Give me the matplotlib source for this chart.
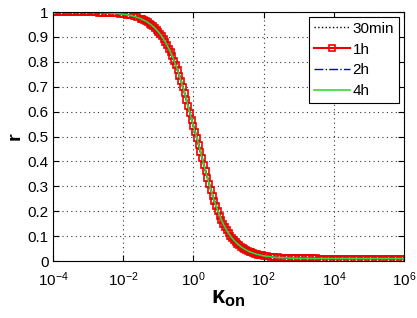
import matplotlib
matplotlib.use("Agg")
import matplotlib.pyplot as plt
import numpy as np

plt.rcParams['font.family'] = ['Liberation Sans', 'DejaVu Sans']
plt.rcParams['mathtext.fontset'] = 'custom'
plt.rcParams['mathtext.rm'] = 'Liberation Sans'
plt.rcParams['mathtext.it'] = 'Liberation Sans'
plt.rcParams['mathtext.bf'] = 'Liberation Sans:bold'

# k_on sampled on a log grid, 10^-4 .. 10^6 in steps of 0.1 decade
k_grid = np.logspace(-4, 6, 101)

# r (all four curves lie on top of each other)
r_grid = [1.000, 1.000, 1.000, 1.000, 1.000, 0.9997, 0.9997, 0.9996, 0.9995, 0.9993,
          0.9991, 0.9989, 0.9986, 0.9983, 0.9978, 0.9973, 0.9966, 0.9957, 0.9946, 0.9932,
          0.9914, 0.9893, 0.9865, 0.9831, 0.9788, 0.9735, 0.9668, 0.9586, 0.9484, 0.9359,
          0.9207, 0.9022, 0.8799, 0.8534, 0.8223, 0.7862, 0.7451, 0.6992, 0.6489, 0.5952,
          0.5420, 0.495, 0.440, 0.385, 0.335, 0.285, 0.240, 0.200, 0.165, 0.1350,
          0.1120, 0.0927, 0.0769, 0.0639, 0.0533, 0.0447, 0.0377, 0.0322, 0.0277, 0.0241,
          0.0212, 0.0189, 0.0171, 0.0157, 0.0145, 0.0136, 0.0129, 0.0123, 0.0118, 0.0114,
          0.0111, 0.0109, 0.0107, 0.0106, 0.0105, 0.0104, 0.0103, 0.0102, 0.0102, 0.0101,
          0.0101, 0.0101, 0.0101, 0.0101, 0.0101, 0.0100, 0.0100, 0.0100, 0.0100, 0.0100,
          0.0100, 0.0100, 0.0100, 0.0100, 0.0100, 0.0100, 0.0100, 0.0100, 0.0100, 0.0100,
          0.0100]

# extra samples on the steep part, half way between grid points (10^-1.45 .. 10^1.95)
k_mid = np.logspace(-1.45, 1.95, 35)
r_mid = [0.9703, 0.9629, 0.9538, 0.9425, 0.9287, 0.9119, 0.8915, 0.8672, 0.8385, 0.8049,
         0.7663, 0.7227, 0.6745, 0.6224, 0.5674, 0.518, 0.468, 0.412, 0.360, 0.310,
         0.262, 0.220, 0.182, 0.150, 0.123, 0.1019, 0.0844, 0.0700, 0.0583, 0.0487,
         0.0410, 0.0348, 0.0298, 0.0258, 0.0226]

k_on = np.concatenate([k_grid, k_mid])
r_1h = np.concatenate([r_grid, r_mid])
order = np.argsort(k_on)
k_on = k_on[order]
r_1h = r_1h[order]

# the other runs start a bit later (around 2e-3)
start_other = np.searchsorted(k_on, 2e-3)
k_other = k_on[start_other:]
r_30min = r_1h[start_other:]
r_2h = r_1h[start_other:]
r_4h = r_1h[start_other:]

x_ticks = [1e-4, 1e-2, 1e0, 1e2, 1e4, 1e6]
x_ticklabels = [r'$10^{-4}$', r'$10^{-2}$', r'$10^{0}$', r'$10^{2}$', r'$10^{4}$', r'$10^{6}$']
y_ticks = [0, 0.1, 0.2, 0.3, 0.4, 0.5, 0.6, 0.7, 0.8, 0.9, 1]
y_ticklabels = ['0', '0.1', '0.2', '0.3', '0.4', '0.5', '0.6', '0.7', '0.8', '0.9', '1']

fig = plt.figure(figsize=(4.17, 3.18), dpi=100)
ax = fig.add_axes([0.127, 0.179, 0.842, 0.783])

ax.plot(k_other, r_30min, ':', color='k', lw=1, label='30min')
ax.plot(k_on, r_1h, '-', color='#ee0000', lw=1.5, marker='s', ms=5,
        mfc='none', mec='#ee0000', mew=1.2, label='1h')
ax.plot(k_other, r_2h, '-.', color='#0000cc', lw=1, label='2h')
ax.plot(k_other, r_4h, '-', color='#33dd33', lw=1.2, label='4h')

ax.set_xscale('log')
ax.set_xlim(1e-4, 1e6)
ax.set_ylim(0, 1)
ax.set_xticks(x_ticks)
ax.set_xticklabels(x_ticklabels)
ax.xaxis.set_minor_locator(matplotlib.ticker.NullLocator())
ax.set_yticks(y_ticks)
ax.set_yticklabels(y_ticklabels)

ax.tick_params(direction='in', length=4, width=0.8, labelsize=11, top=True, right=True)
ax.tick_params(axis='x', pad=7)
ax.tick_params(axis='y', pad=3)
ax.grid(True, linestyle=(0, (1, 3)), color='#333333', lw=0.8)
for s in ax.spines.values():
    s.set_linewidth(0.8)

ax.set_xlabel(r'$\mathbf{\kappa_{on}}$', fontsize=17, labelpad=-2)
ax.set_ylabel('r', fontsize=14, fontweight='bold', labelpad=3)

leg = ax.legend(loc='upper right', bbox_to_anchor=(0.985, 0.98), fontsize=11,
                fancybox=False, framealpha=1, edgecolor='k', handlelength=2.4,
                borderpad=0.3, labelspacing=0.45, handletextpad=0.15, borderaxespad=0)
leg.get_frame().set_linewidth(0.8)

fig.savefig('out.png', dpi=100)
